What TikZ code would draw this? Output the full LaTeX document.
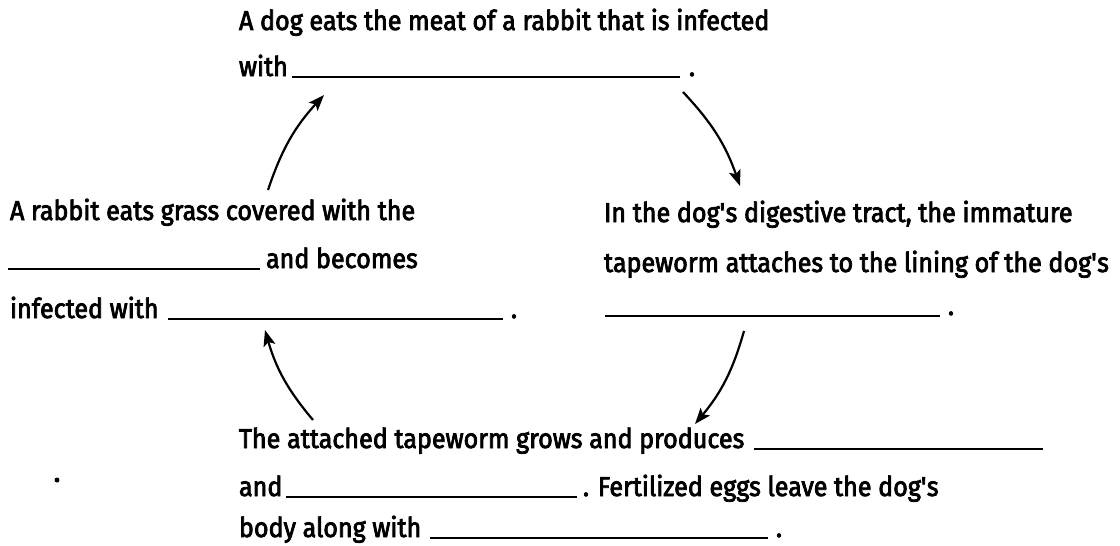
\documentclass[tikz,border=0pt]{standalone}
\usepackage{fontspec}
\setmainfont{Fira Sans}[FakeStretch=0.92,FakeBold=2.8]
\usetikzlibrary{arrows.meta}
\begin{document}
\begin{tikzpicture}[x=1pt,y=-1pt,
  txt/.style={anchor=base west,inner sep=0pt,outer sep=0pt,font=\fontsize{27.3}{32}\selectfont},
  blank/.style={line width=1.7pt},
  cyc/.style={line width=2.2pt,-{Stealth[length=16pt,width=12pt,inset=3.5pt]}}]
\useasboundingbox (0,0) rectangle (1120,546);
% top
\node[txt] (t1) at (239,30) {A dog eats the meat of a rabbit that is infected};
\node[txt] (t2) at (239,76) {with};
\draw[blank] (292,77) -- (680,77);
\node[txt] (t2p) at (689,76) {.};
% left
\node[txt] (l1) at (10,220) {A rabbit eats grass covered with the};
\draw[blank] (8,269) -- (260,269);
\node[txt] (l2) at (266,268) {and becomes};
\node[txt] (l3) at (10,318) {infected with};
\draw[blank] (168,319) -- (503,319);
\node[txt] (l3p) at (511,318) {.};
% right
\node[txt] (r1) at (604,222) {In the dog\textquotesingle s digestive tract, the immature};
\node[txt] (r2) at (604,272) {tapeworm attaches to the lining of the dog\textquotesingle s};
\draw[blank] (605,316) -- (940,316);
\node[txt] (r3p) at (948,315) {.};
% bottom
\node[txt] (b1) at (239,448) {The attached tapeworm grows and produces};
\draw[blank] (754,449) -- (1043,449);
\node[txt] (b2) at (239,496) {and};
\draw[blank] (286,497) -- (577,497);
\node[txt] (b2b) at (583,496) {. Fertilized eggs leave the dog\textquotesingle s};
\node[txt] (b3) at (239,537) {body along with};
\draw[blank] (430,538) -- (768,538);
\node[txt] (b3p) at (776,537) {.};
% arrows
\coordinate (a1s) at (268,190); \coordinate (a1e) at (324,95);
\coordinate (a2s) at (683,92);  \coordinate (a2e) at (740,186);
\coordinate (a3s) at (744,331); \coordinate (a3e) at (695,424);
\coordinate (a4s) at (313,420); \coordinate (a4e) at (265,330);
\draw[cyc] (a1s) to[bend left=12] (a1e);
\draw[cyc] (a2s) to[bend left=12] (a2e);
\draw[cyc] (a3s) to[bend left=12] (a3e);
\draw[cyc] (a4s) to[bend left=12] (a4e);
\fill (57,480) circle (2.5pt);
\end{tikzpicture}
\end{document}
